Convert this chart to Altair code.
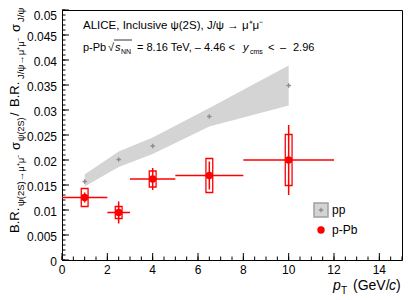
import altair as alt
import pandas as pd

# ---- data ----
pt = [1, 2.5, 4, 6.5, 10]
pp_ratio = [0.0157, 0.0201, 0.0228, 0.0287, 0.0349]
pp_band_lo = [0.0147, 0.0186, 0.0212, 0.0267, 0.0309]
pp_band_hi = [0.0171, 0.0217, 0.0245, 0.0304, 0.0389]

pb_ratio = [0.0125, 0.0095, 0.0162, 0.0169, 0.0200]
pb_xlo = [0, 2, 3, 5, 8]
pb_xhi = [2, 3, 5, 8, 12]
pb_stat = [0.0010, 0.0022, 0.0022, 0.0028, 0.0070]
pb_sys = [0.0018, 0.0012, 0.0016, 0.0034, 0.0051]

x_ticks = [0, 2, 4, 6, 8, 10, 12, 14]
x_labels = ["0", "2", "4", "6", "8", "10", "12", "14"]
y_ticks = [0, 0.005, 0.01, 0.015, 0.02, 0.025, 0.03, 0.035, 0.04, 0.045, 0.05]
y_labels = ["0", "0.005", "0.01", "0.015", "0.02", "0.025", "0.03", "0.035",
            "0.04", "0.045", "0.05"]
x_minor = [i * 0.5 for i in range(31)]
y_minor = [i * 0.001 for i in range(51)]

FONT = "Liberation Sans"
RED = "#ff0000"

pp = pd.DataFrame({"x": pt, "y": pp_ratio, "lo": pp_band_lo, "hi": pp_band_hi})
pb = pd.DataFrame({"x": pt, "y": pb_ratio, "xlo": pb_xlo, "xhi": pb_xhi,
                   "stat": pb_stat, "sys": pb_sys})
one = pd.DataFrame({"a": [0]})

xs = alt.Scale(domain=[0, 15], nice=False, zero=False)
ys = alt.Scale(domain=[0, 0.05], nice=False, zero=False)

band = alt.Chart(pp).mark_area(color="#d4d4d4").encode(
    x=alt.X("x:Q", scale=xs, axis=None),
    y=alt.Y("lo:Q", scale=ys, axis=None),
    y2="hi:Q",
)

plus_shape = "M-1,0L1,0M0,-1L0,1"
pp_pts = alt.Chart(pp).mark_point(shape=plus_shape, size=20, color="#8c8c8c",
                                  strokeWidth=1.3, filled=False, opacity=1).encode(
    x=alt.X("x:Q", scale=xs, axis=None),
    y=alt.Y("y:Q", scale=ys, axis=None),
)

pb_base = alt.Chart(pb).transform_calculate(
    slo="datum.y - datum.sys", shi="datum.y + datum.sys",
    tlo="datum.y - datum.stat", thi="datum.y + datum.stat",
    bxl="datum.x - 0.15", bxr="datum.x + 0.15",
)

xerr = pb_base.mark_rule(color=RED, strokeWidth=1.5).encode(
    x=alt.X("xlo:Q", scale=xs, axis=None), x2="xhi:Q",
    y=alt.Y("y:Q", scale=ys, axis=None),
)
stat = pb_base.mark_rule(color=RED, strokeWidth=1.5).encode(
    x=alt.X("x:Q", scale=xs, axis=None),
    y=alt.Y("tlo:Q", scale=ys, axis=None), y2="thi:Q",
)
sysbox = pb_base.mark_rect(fill=None, stroke=RED, strokeWidth=1.3).encode(
    x=alt.X("bxl:Q", scale=xs, axis=None), x2="bxr:Q",
    y=alt.Y("slo:Q", scale=ys, axis=None), y2="shi:Q",
)
pb_pts = pb_base.mark_circle(color=RED, size=55, opacity=1).encode(
    x=alt.X("x:Q", scale=xs, axis=None),
    y=alt.Y("y:Q", scale=ys, axis=None),
)

# axis ticks drawn inside the frame (ROOT style)
def xtick_layer(vals, length):
    return alt.Chart(pd.DataFrame({"v": vals})).mark_rule(color="black", strokeWidth=1).encode(
        x=alt.X("v:Q", scale=xs, axis=None), y=alt.value(250), y2=alt.value(250 - length))

def ytick_layer(vals, length):
    return alt.Chart(pd.DataFrame({"v": vals})).mark_rule(color="black", strokeWidth=1).encode(
        y=alt.Y("v:Q", scale=ys, axis=None), x=alt.value(0), x2=alt.value(length))

ticks = [xtick_layer(x_ticks, 7), xtick_layer(x_minor, 3.5),
         ytick_layer(y_ticks, 7), ytick_layer(y_minor, 3.5)]

xlab = alt.Chart(pd.DataFrame({"v": x_ticks, "t": x_labels})).mark_text(
    font=FONT, fontSize=12, baseline="top", align="center", color="black").encode(
    x=alt.X("v:Q", scale=xs, axis=None), y=alt.value(255), text="t:N")
ylab = alt.Chart(pd.DataFrame({"v": y_ticks[:-1], "t": y_labels[:-1]})).mark_text(
    font=FONT, fontSize=12, baseline="middle", align="right", color="black", dy=1.5).encode(
    y=alt.Y("v:Q", scale=ys, axis=None), x=alt.value(-5), text="t:N")
# top label kept inside the page (the reference draws it partly above the frame)
ylab_top = alt.Chart(pd.DataFrame({"v": y_ticks[-1:], "t": y_labels[-1:]})).mark_text(
    font=FONT, fontSize=12, baseline="top", align="right", color="black", dy=1).encode(
    y=alt.Y("v:Q", scale=ys, axis=None), x=alt.value(-5), text="t:N")


def txt(s, x, y, size=12, angle=0, italic=False, font=FONT, align="left"):
    return alt.Chart(one).mark_text(
        text=s, fontSize=size, font=font, angle=angle, align=align,
        baseline="alphabetic", fontStyle="italic" if italic else "normal",
        color="black").encode(x=alt.value(x), y=alt.value(y))

texts = [
    # header
    txt("ALICE, Inclusive ψ(2S), J/ψ → μ⁺μ⁻", 21, 19, 11.5),
    txt("p-Pb", 21, 41, 11),
    txt("√", 46, 41, 11),
    txt("s", 53, 41, 11, italic=True),
    txt("NN", 59, 44, 7),
    txt("= 8.16 TeV, – 4.46 <", 75, 41, 11),
    txt("y", 181, 41, 11, italic=True),
    txt("cms", 188, 44, 7),
    txt("<", 206, 41, 11),
    txt("–", 218, 41, 11),
    txt("2.96", 231, 41, 11),
    # x title
    txt("p", 271, 280, 14, italic=True),
    txt("T", 279, 284, 10),
    txt("(GeV/", 291, 280, 14),
    txt("c", 327, 280, 14, italic=True),
    txt(")", 334, 280, 14),
    # y title (rotated)
    txt("B.R.", -43, 223, 13, angle=270),
    txt("ψ(2S)→μ⁺μ⁻", -38, 196, 9.5, angle=270),
    txt("σ", -42, 140, 13, angle=270),
    txt("ψ(2S)", -38, 131, 9, angle=270),
    txt("/", -43, 106, 13, angle=270),
    txt("B.R.", -43, 97, 13, angle=270),
    txt("J/ψ→μ⁺μ⁻", -38, 69, 9.5, angle=270),
    txt("σ", -42, 22, 13, angle=270),
    txt("J/ψ", -38, 12, 9.5, angle=270),
    # legend
    txt("pp", 270, 204, 12),
    txt("p-Pb", 270, 224, 12),
]

sqrt_bar = alt.Chart(one).mark_rule(color="black", strokeWidth=0.8).encode(
    x=alt.value(52), x2=alt.value(70), y=alt.value(30))

leg_box = alt.Chart(one).mark_rect(fill="#d4d4d4", stroke="#a0a0a0", strokeWidth=1.5).encode(
    x=alt.value(252), x2=alt.value(266), y=alt.value(193), y2=alt.value(207))
leg_plus = alt.Chart(one).mark_point(shape=plus_shape, size=20, color="#8c8c8c",
                                     strokeWidth=1.3, filled=False, opacity=1).encode(
    x=alt.value(259), y=alt.value(200))
leg_dot = alt.Chart(one).mark_circle(color=RED, size=55, opacity=1).encode(
    x=alt.value(259), y=alt.value(220))

chart = alt.layer(
    band, pp_pts, xerr, stat, sysbox, pb_pts, *ticks, xlab, ylab, ylab_top, sqrt_bar,
    leg_box, leg_plus, leg_dot, *texts
).properties(
    width=340, height=250,
    autosize=alt.AutoSizeParams(type="none"),
    padding={"left": 54, "top": 2, "right": 5, "bottom": 38},
    background="white",
).configure_view(stroke="black", strokeWidth=1)

chart.save("out.html", embed_options={"renderer": "svg", "actions": False})
